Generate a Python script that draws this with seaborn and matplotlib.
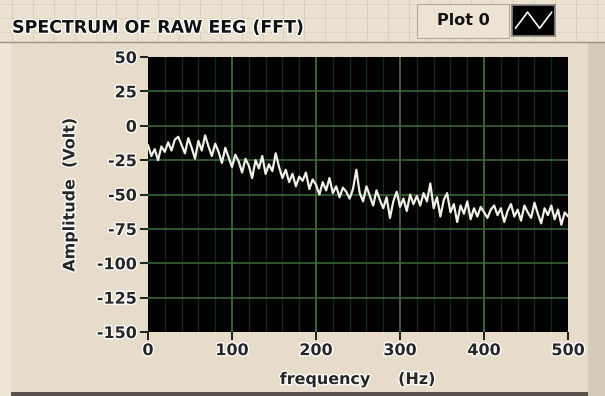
import numpy as np
import pandas as pd
import matplotlib
matplotlib.use("Agg")
import matplotlib.pyplot as plt
import matplotlib.patheffects as pe
from matplotlib.patches import Rectangle
import seaborn as sns

# FFT amplitude spectrum of the raw EEG, one value every 4 Hz from 0 to 500 Hz
freq_hz = list(range(0, 501, 4))
amplitude_volt = [
    -14, -22, -17, -25, -15, -19, -12, -18, -10, -8, -14,
    -20, -9, -16, -24, -11, -18, -7, -15, -22, -13,
    -19, -27, -16, -23, -30, -21, -26, -34, -24, -29,
    -38, -25, -31, -22, -35, -28, -33, -20, -30, -38,
    -32, -41, -35, -44, -37, -40, -34, -46, -39, -43,
    -50, -41, -47, -38, -49, -44, -52, -45, -48, -53,
    -46, -32, -49, -55, -44, -51, -58, -47, -54, -60,
    -52, -67, -55, -48, -59, -53, -62, -50, -57, -51,
    -58, -49, -55, -42, -60, -52, -66, -54, -49, -63,
    -57, -70, -58, -64, -55, -68, -60, -66, -59, -63,
    -67, -61, -58, -65, -60, -70, -62, -57, -66, -61,
    -69, -58, -63, -67, -56, -64, -71, -60, -65, -58,
    -68, -61, -72, -63, -66,
]

x_ticks = [0, 100, 200, 300, 400, 500]
y_ticks = [50, 25, 0, -25, -50, -75, -100, -125, -150]

title_text = "SPECTRUM OF RAW EEG (FFT)"
legend_text = "Plot 0"
x_label = "frequency     (Hz)"
y_label = "Amplitude  (Volt)"

df = pd.DataFrame({"freq": freq_hz, "amp": amplitude_volt})

sns.set_theme(style="dark")
plt.rcParams["font.family"] = ["DejaVu Sans"]

panel = "#e7dbc9"
fig = plt.figure(figsize=(6.05, 3.96), dpi=100, facecolor=panel)

# header strip and frame edges
fig.patches.append(Rectangle((0, 0.893), 1, 0.107, transform=fig.transFigure,
                             facecolor="#ebe1d1", edgecolor="none", zorder=-2))
for gx in np.arange(0.02, 1.0, 0.0345):
    fig.lines.append(plt.Line2D([gx, gx], [0.893, 1.0], transform=fig.transFigure,
                                color="#d9ccb8", lw=0.6, zorder=-1))
for gy in [0.92, 0.955, 0.99]:
    fig.lines.append(plt.Line2D([0, 1], [gy, gy], transform=fig.transFigure,
                                color="#ddd1be", lw=0.6, zorder=-1))
fig.lines.append(plt.Line2D([0, 1], [0.893, 0.893], transform=fig.transFigure,
                            color="#9a8f80", lw=1.0, zorder=-1))
fig.patches.append(Rectangle((0.972, 0), 0.028, 0.893, transform=fig.transFigure,
                             facecolor="#d6cab8", edgecolor="none", zorder=-2))
fig.patches.append(Rectangle((0.015, 0.0), 0.957, 0.009, transform=fig.transFigure,
                             facecolor="#5a534b", edgecolor="none", zorder=-2))
fig.patches.append(Rectangle((0.0, 0.0), 0.018, 0.893, transform=fig.transFigure,
                             facecolor="#efe6d8", edgecolor="none", zorder=-2))

ax = fig.add_axes([0.2446, 0.1616, 0.6944, 0.6944])
ax.set_facecolor("black")

sns.lineplot(data=df, x="freq", y="amp", ax=ax, color="#f0f0e6", lw=1.6)

ax.set_xlim(0, 500)
ax.set_ylim(-150, 50)

# grid: dark green minor verticals every 20 Hz, lighter major lines
for xm in range(20, 500, 20):
    if xm % 100:
        ax.axvline(xm, color="#0f2c10", lw=1.0, zorder=0)
for xm in x_ticks[1:-1]:
    ax.axvline(xm, color="#4f7a4a", lw=1.1, zorder=0)
for ym in y_ticks[1:-1]:
    ax.axhline(ym, color="#3e6a3a", lw=1.1, zorder=0)

halo = [pe.withStroke(linewidth=2.0, foreground="white")]
ax.set_xticks(x_ticks)
ax.set_yticks(y_ticks)
ax.set_xticklabels([str(v) for v in x_ticks], fontsize=11.5, fontweight="bold",
                   path_effects=halo)
ax.set_yticklabels([str(v) for v in y_ticks], fontsize=11.5, fontweight="bold",
                   path_effects=halo)
ax.tick_params(axis="both", which="major", length=6, width=1.3, color="#111111",
               bottom=True, left=True, pad=2)
ax.set_xlabel(x_label, fontsize=11.5, fontweight="bold", labelpad=10,
              path_effects=halo)
ax.set_ylabel(y_label, fontsize=11.5, fontweight="bold", labelpad=14,
              path_effects=halo)
for s in ax.spines.values():
    s.set_visible(False)

fig.text(0.02, 0.93, title_text, fontsize=12.5, fontweight="bold",
         color="#111111", va="center", ha="left",
         path_effects=halo)

# legend box: label and line sample
fig.patches.append(Rectangle((0.69, 0.905), 0.152, 0.085, transform=fig.transFigure,
                             facecolor="#ece3d5", edgecolor="#b5a996", lw=0.8, zorder=2))
fig.text(0.766, 0.948, legend_text, fontsize=11.5, fontweight="bold",
         color="#111111", va="center", ha="center", zorder=3)
lax = fig.add_axes([0.846, 0.91, 0.072, 0.078], zorder=5)
lax.set_facecolor("black")
sns.lineplot(x=[0, 1, 2, 3], y=[0.25, 0.8, 0.25, 0.8], ax=lax, color="white", lw=1.2)
lax.set_xlim(-0.3, 3.3)
lax.set_ylim(0, 1.05)
lax.set_xticks([])
lax.set_yticks([])
lax.set_xlabel("")
lax.set_ylabel("")
for s in lax.spines.values():
    s.set_color("#888888")

fig.savefig("out.png", dpi=100, facecolor=panel)
